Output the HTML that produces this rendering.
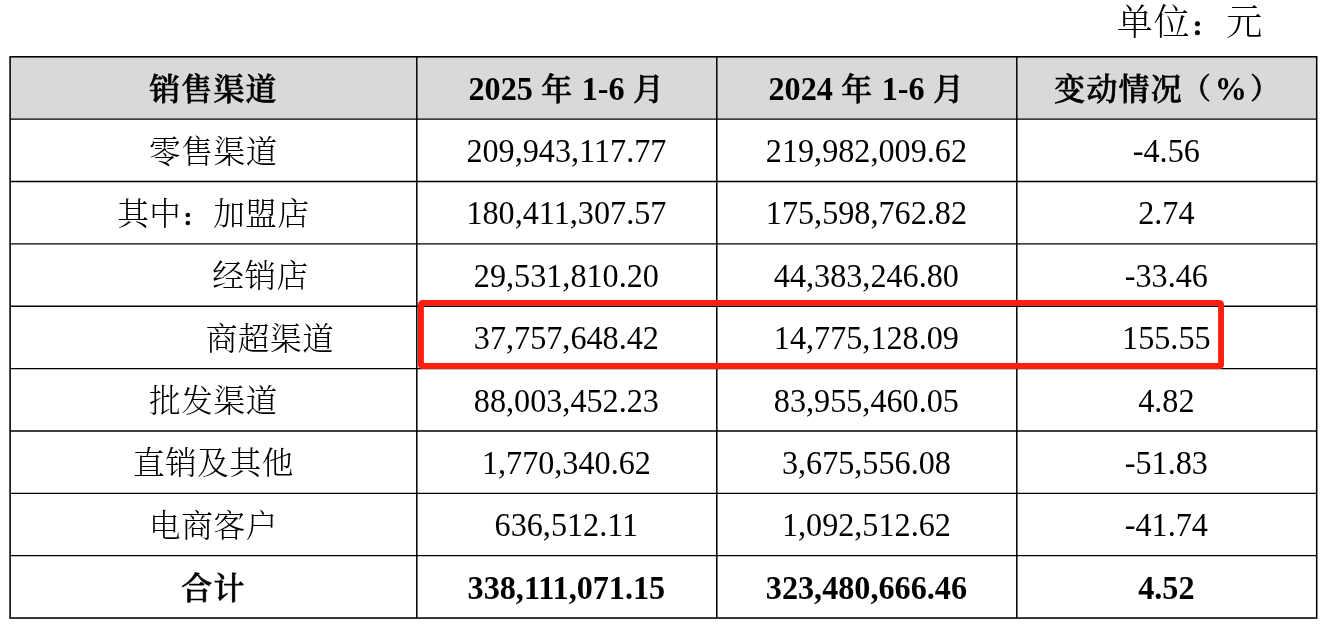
<!DOCTYPE html>
<html lang="zh-CN">
<head>
<meta charset="utf-8">
<title>销售渠道</title>
<style>
html,body{margin:0;padding:0;background:#fff;}
body{width:1324px;height:627px;overflow:hidden;position:relative;font-family:"Liberation Serif","Noto Serif CJK SC",serif;color:#000;}
#wrap{position:absolute;left:0;top:0;width:1324px;height:627px;overflow:hidden;background:#fff;}
svg{position:absolute;left:0;top:0;}
.t{position:absolute;width:600px;height:40px;line-height:40px;text-align:center;white-space:pre;font-size:32.2px;}
.b{font-weight:700;word-spacing:0.3px;}
.l{display:inline-block;transform:scaleY(1.048);transform-origin:50% 30.87px;}
.c{position:relative;top:0.5px;font-size:0.982em;letter-spacing:0.018em;font-weight:300;}
.b .c{font-weight:500;font-size:0.96em;letter-spacing:0.04em;-webkit-text-stroke:0.75px #000;top:0.1px;}
.b .p{font-size:0.9em;letter-spacing:0.1em;top:-0.3px;}
.k{display:inline-block;width:1.613em;font-size:0.62em;font-weight:900;-webkit-text-stroke:0.6px #000;text-align:left;text-indent:0.04em;letter-spacing:0;}
.u{font-size:36.8px;}
.u .c{top:0;}

</style>
</head>
<body>
<div id="wrap">
<svg width="1324" height="627" viewBox="0 0 1324 627">
<rect x="10.10" y="56.80" width="1306.60" height="62.36" fill="#d9d9d9"/>
<line x1="10.10" x2="1316.70" y1="119.16" y2="119.16" stroke="#000" stroke-width="1.35"/>
<line x1="10.10" x2="1316.70" y1="181.52" y2="181.52" stroke="#000" stroke-width="1.35"/>
<line x1="10.10" x2="1316.70" y1="243.88" y2="243.88" stroke="#000" stroke-width="1.35"/>
<line x1="10.10" x2="1316.70" y1="306.24" y2="306.24" stroke="#000" stroke-width="1.35"/>
<line x1="10.10" x2="1316.70" y1="368.60" y2="368.60" stroke="#000" stroke-width="1.35"/>
<line x1="10.10" x2="1316.70" y1="430.96" y2="430.96" stroke="#000" stroke-width="1.35"/>
<line x1="10.10" x2="1316.70" y1="493.32" y2="493.32" stroke="#000" stroke-width="1.35"/>
<line x1="10.10" x2="1316.70" y1="555.68" y2="555.68" stroke="#000" stroke-width="1.35"/>
<line x1="416.80" x2="416.80" y1="56.80" y2="618.04" stroke="#000" stroke-width="1.5"/>
<line x1="716.80" x2="716.80" y1="56.80" y2="618.04" stroke="#000" stroke-width="1.5"/>
<line x1="1016.80" x2="1016.80" y1="56.80" y2="618.04" stroke="#000" stroke-width="1.5"/>
<rect x="10.10" y="56.80" width="1306.60" height="561.24" fill="none" stroke="#000" stroke-width="1.55"/>
<rect x="420.95" y="302.85" width="800.1" height="63.2" rx="1.4" ry="1.4" fill="none" stroke="#ff1e10" stroke-width="5.9"/>
</svg>
<div class="t u" id="unit" style="left:889.90px;top:2.90px"><span class="c">单位<span class="k">：</span>元</span></div>
<div class="t b" id="c0_0" style="left:-86.55px;top:68.76px"><span class="c">销售渠道</span></div>
<div class="t b" id="c0_1" style="left:266.80px;top:68.76px"><span class="l">2025 </span><span class="c">年</span><span class="l"> 1-6 </span><span class="c">月</span></div>
<div class="t b" id="c0_2" style="left:566.80px;top:68.76px"><span class="l">2024 </span><span class="c">年</span><span class="l"> 1-6 </span><span class="c">月</span></div>
<div class="t b" id="c0_3" style="left:868.25px;top:68.76px"><span class="c">变动情况</span><span class="c p" style="margin-left:-1.2px;margin-right:1.1px">（</span><span class="l">%</span><span class="c p" style="margin-left:3.5px">）</span></div>
<div class="t" id="c1_0" style="left:-86.55px;top:131.12px"><span class="c">零售渠道</span></div>
<div class="t" id="c1_1" style="left:266.40px;top:131.12px"><span class="l">209,943,117.77</span></div>
<div class="t" id="c1_2" style="left:566.40px;top:131.12px"><span class="l">219,982,009.62</span></div>
<div class="t" id="c1_3" style="left:866.35px;top:131.12px"><span class="l">-4.56</span></div>
<div class="t" id="c2_0" style="left:-86.55px;top:193.48px"><span class="c">其中<span class="k">：</span>加盟店</span></div>
<div class="t" id="c2_1" style="left:266.40px;top:193.48px"><span class="l">180,411,307.57</span></div>
<div class="t" id="c2_2" style="left:566.40px;top:193.48px"><span class="l">175,598,762.82</span></div>
<div class="t" id="c2_3" style="left:866.35px;top:193.48px"><span class="l">2.74</span></div>
<div class="t" id="c3_0" style="left:-39.50px;top:255.84px"><span class="c">经销店</span></div>
<div class="t" id="c3_1" style="left:266.40px;top:255.84px"><span class="l">29,531,810.20</span></div>
<div class="t" id="c3_2" style="left:566.40px;top:255.84px"><span class="l">44,383,246.80</span></div>
<div class="t" id="c3_3" style="left:866.35px;top:255.84px"><span class="l">-33.46</span></div>
<div class="t" id="c4_0" style="left:-30.00px;top:318.20px"><span class="c">商超渠道</span></div>
<div class="t" id="c4_1" style="left:266.40px;top:318.20px"><span class="l">37,757,648.42</span></div>
<div class="t" id="c4_2" style="left:566.40px;top:318.20px"><span class="l">14,775,128.09</span></div>
<div class="t" id="c4_3" style="left:866.35px;top:318.20px"><span class="l">155.55</span></div>
<div class="t" id="c5_0" style="left:-86.55px;top:380.56px"><span class="c">批发渠道</span></div>
<div class="t" id="c5_1" style="left:266.40px;top:380.56px"><span class="l">88,003,452.23</span></div>
<div class="t" id="c5_2" style="left:566.40px;top:380.56px"><span class="l">83,955,460.05</span></div>
<div class="t" id="c5_3" style="left:866.35px;top:380.56px"><span class="l">4.82</span></div>
<div class="t" id="c6_0" style="left:-86.55px;top:442.92px"><span class="c">直销及其他</span></div>
<div class="t" id="c6_1" style="left:266.40px;top:442.92px"><span class="l">1,770,340.62</span></div>
<div class="t" id="c6_2" style="left:566.40px;top:442.92px"><span class="l">3,675,556.08</span></div>
<div class="t" id="c6_3" style="left:866.35px;top:442.92px"><span class="l">-51.83</span></div>
<div class="t" id="c7_0" style="left:-86.55px;top:505.28px"><span class="c">电商客户</span></div>
<div class="t" id="c7_1" style="left:266.40px;top:505.28px"><span class="l">636,512.11</span></div>
<div class="t" id="c7_2" style="left:566.40px;top:505.28px"><span class="l">1,092,512.62</span></div>
<div class="t" id="c7_3" style="left:866.35px;top:505.28px"><span class="l">-41.74</span></div>
<div class="t b" id="c8_0" style="left:-86.55px;top:568.39px"><span class="c">合计</span></div>
<div class="t b" id="c8_1" style="left:266.40px;top:568.39px"><span class="l">338,111,071.15</span></div>
<div class="t b" id="c8_2" style="left:566.40px;top:568.39px"><span class="l">323,480,666.46</span></div>
<div class="t b" id="c8_3" style="left:866.35px;top:568.39px"><span class="l">4.52</span></div>
</div>
</body>
</html>
